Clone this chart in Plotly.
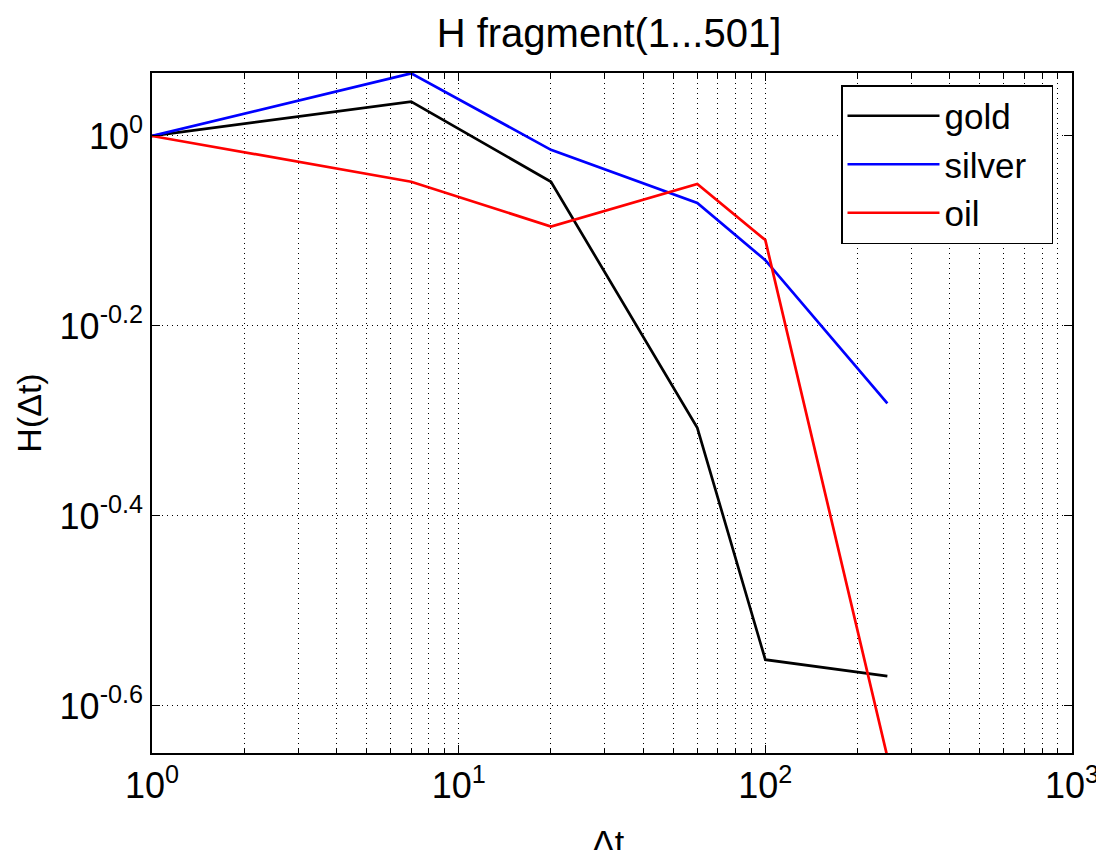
import plotly.graph_objects as go

dt = [1, 7, 20, 60, 100, 250]
gold = [1.0, 1.087, 0.895, 0.493, 0.281, 0.270]
silver = [1.0, 1.164, 0.967, 0.850, 0.740, 0.523]
oil = [1.0, 0.895, 0.803, 0.890, 0.777, 0.222]

x_major = [1, 10, 100, 1000]
x_major_text = ["10<sup>0</sup>", "10<sup>1</sup>", "10<sup>2</sup>", "10<sup>3</sup>"]
y_major = [10 ** -0.6, 10 ** -0.4, 10 ** -0.2, 1.0]
y_major_text = ["10<sup>-0.6</sup>", "10<sup>-0.4</sup>", "10<sup>-0.2</sup>", "10<sup>0</sup>"]
x_minor = [m * d for d in [1, 10, 100] for m in range(2, 10)]

font_family = "Liberation Sans, Arial, sans-serif"

W, H = 1096, 842  # page has an 8px body margin

fig = go.Figure()
for name, vals, col in [("gold", gold, "#000000"), ("silver", silver, "#0000ff"), ("oil", oil, "#ff0000")]:
    fig.add_trace(go.Scatter(x=dt, y=vals, mode="lines", name=name + "\u00a0\u00a0",
                             line=dict(color=col, width=2.7)))

dotdash = "1px,4px"
fig.update_layout(
    width=W, height=H,
    paper_bgcolor="white", plot_bgcolor="white",
    margin=dict(l=144, r=32, t=65, b=97),
    font=dict(family=font_family, color="black"),
    title=dict(text="H fragment(1...501]", x=601 / W, xanchor="center",
               y=1 - 25 / H, yanchor="middle", font=dict(size=40)),
    showlegend=True,
    legend=dict(x=(841 - 152) / 920, y=1 - (85 - 73) / 680, xanchor="left", yanchor="top",
                bordercolor="black", borderwidth=1.5, bgcolor="white",
                font=dict(size=35), itemwidth=92, tracegroupgap=0),
    xaxis=dict(type="log", range=[0, 3], tickmode="array", tickvals=x_major,
               ticktext=x_major_text, tickfont=dict(size=36), automargin=False,
               showline=True, linecolor="black", linewidth=1.5, mirror="allticks",
               ticks="inside", ticklen=8, tickcolor="black",
               showgrid=True, gridcolor="black", gridwidth=1, griddash=dotdash,
               zeroline=False,
               minor=dict(tickmode="array", tickvals=x_minor, ticks="inside", ticklen=5,
                          tickcolor="black", showgrid=True, gridcolor="black",
                          gridwidth=1, griddash=dotdash)),
    yaxis=dict(type="log", range=[-0.6495, 0.0663], tickmode="array", tickvals=y_major,
               ticktext=y_major_text, tickfont=dict(size=36), automargin=False,
               showline=True, linecolor="black", linewidth=1.5, mirror="allticks",
               ticks="inside", ticklen=8, tickcolor="black",
               showgrid=True, gridcolor="black", gridwidth=1, griddash=dotdash,
               zeroline=False,
               title=dict(text="H(Δt)", font=dict(size=34), standoff=8)),
)
fig.add_annotation(text="Δt", xref="paper", yref="paper", x=(608 - 152) / 920,
                   y=-(821 - 753) / 680,
                   xanchor="center", yanchor="top", showarrow=False,
                   font=dict(size=34, family=font_family))

fig.write_html("out.html")
